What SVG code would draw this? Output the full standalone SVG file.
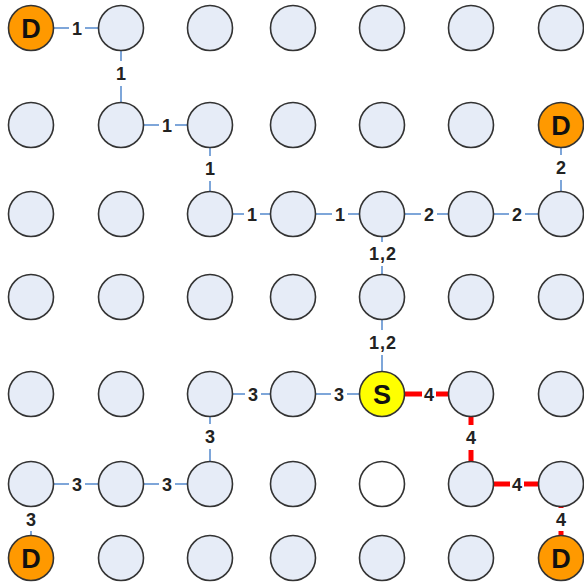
<svg xmlns="http://www.w3.org/2000/svg" width="584" height="585" viewBox="0 0 584 585">
<style>
.n{fill:#e6ecf7;stroke:#333;stroke-width:1.6}
.w{fill:#ffffff;stroke:#333;stroke-width:1.6}
.d{fill:#ff9900;stroke:#333;stroke-width:1.6}
.s{fill:#ffff00;stroke:#333;stroke-width:1.6}
.b{stroke:#7ea6d9;stroke-width:2;fill:none}
.r{stroke:#ff0000;stroke-width:5;fill:none}
.l{font-family:"Liberation Sans",Arial,sans-serif;font-weight:bold;font-size:18px;fill:#222;text-anchor:middle}
.ls{letter-spacing:1px}
.t{font-family:"Liberation Sans",Arial,sans-serif;font-weight:bold;font-size:27px;fill:#111;text-anchor:middle}
</style>
<rect width="584" height="585" fill="#ffffff"/>
<g id="connectors">
<path class="b" d="M53.5 28H69M85 28H98.5"/>
<path class="b" d="M143.5 125H159M175 125H187.5"/>
<path class="b" d="M232.5 214H244M260 214H270.5"/>
<path class="b" d="M315.5 214H332M348 214H359.5"/>
<path class="b" d="M404.5 214H421M437 214H448.5"/>
<path class="b" d="M493.5 214H509M525 214H538.5"/>
<path class="b" d="M232.5 394H245M261 394H270.5"/>
<path class="b" d="M315.5 394H331M347 394H359.5"/>
<path class="b" d="M53.5 484H69M85 484H98.5"/>
<path class="b" d="M143.5 484H159M175 484H187.5"/>
<path class="b" d="M121 50.5V61M121 86V102.5"/>
<path class="b" d="M210 147.5V156M210 181V191.5"/>
<path class="b" d="M561 147.5V155M561 180V191.5"/>
<path class="b" d="M382 236.5V242M382 266V274.5"/>
<path class="b" d="M382 319.5V330M382 355V371.5"/>
<path class="b" d="M210 416.5V424M210 449V461.5"/>
<path class="b" d="M31 506.5V507M31 531V535.5"/>
<path class="r" d="M404.5 394H422M436 394H448.5"/>
<path class="r" d="M471 416.5V425M471 450V461.5"/>
<path class="r" d="M493.5 484H510M524 484H538.5"/>
<path class="r" d="M561 506.5V508M561 531V535.5"/>
</g>
<g id="edge-labels">
<text class="l" x="77" y="34.5">1</text>
<text class="l" x="167" y="131.5">1</text>
<text class="l" x="252" y="220.5">1</text>
<text class="l" x="340" y="220.5">1</text>
<text class="l" x="429" y="220.5">2</text>
<text class="l" x="517" y="220.5">2</text>
<text class="l" x="253" y="400.5">3</text>
<text class="l" x="339" y="400.5">3</text>
<text class="l" x="77" y="490.5">3</text>
<text class="l" x="167" y="490.5">3</text>
<text class="l" x="121" y="80">1</text>
<text class="l" x="210" y="175">1</text>
<text class="l" x="561" y="174">2</text>
<text class="l ls" x="383" y="260">1,2</text>
<text class="l ls" x="383" y="349">1,2</text>
<text class="l" x="210" y="443">3</text>
<text class="l" x="31" y="526">3</text>
<text class="l" x="429" y="400.5">4</text>
<text class="l" x="471" y="444">4</text>
<text class="l" x="517" y="490.5">4</text>
<text class="l" x="561" y="526">4</text>
</g>
<g id="n-1-1"><circle class="d" cx="31" cy="28" r="22.5"/><text class="t" x="31" y="37.5">D</text></g>
<g id="n-1-2"><circle class="n" cx="121" cy="28" r="22.5"/></g>
<g id="n-1-3"><circle class="n" cx="210" cy="28" r="22.5"/></g>
<g id="n-1-4"><circle class="n" cx="293" cy="28" r="22.5"/></g>
<g id="n-1-5"><circle class="n" cx="382" cy="28" r="22.5"/></g>
<g id="n-1-6"><circle class="n" cx="471" cy="28" r="22.5"/></g>
<g id="n-1-7"><circle class="n" cx="561" cy="28" r="22.5"/></g>
<g id="n-2-1"><circle class="n" cx="31" cy="125" r="22.5"/></g>
<g id="n-2-2"><circle class="n" cx="121" cy="125" r="22.5"/></g>
<g id="n-2-3"><circle class="n" cx="210" cy="125" r="22.5"/></g>
<g id="n-2-4"><circle class="n" cx="293" cy="125" r="22.5"/></g>
<g id="n-2-5"><circle class="n" cx="382" cy="125" r="22.5"/></g>
<g id="n-2-6"><circle class="n" cx="471" cy="125" r="22.5"/></g>
<g id="n-2-7"><circle class="d" cx="561" cy="125" r="22.5"/><text class="t" x="561" y="134.5">D</text></g>
<g id="n-3-1"><circle class="n" cx="31" cy="214" r="22.5"/></g>
<g id="n-3-2"><circle class="n" cx="121" cy="214" r="22.5"/></g>
<g id="n-3-3"><circle class="n" cx="210" cy="214" r="22.5"/></g>
<g id="n-3-4"><circle class="n" cx="293" cy="214" r="22.5"/></g>
<g id="n-3-5"><circle class="n" cx="382" cy="214" r="22.5"/></g>
<g id="n-3-6"><circle class="n" cx="471" cy="214" r="22.5"/></g>
<g id="n-3-7"><circle class="n" cx="561" cy="214" r="22.5"/></g>
<g id="n-4-1"><circle class="n" cx="31" cy="297" r="22.5"/></g>
<g id="n-4-2"><circle class="n" cx="121" cy="297" r="22.5"/></g>
<g id="n-4-3"><circle class="n" cx="210" cy="297" r="22.5"/></g>
<g id="n-4-4"><circle class="n" cx="293" cy="297" r="22.5"/></g>
<g id="n-4-5"><circle class="n" cx="382" cy="297" r="22.5"/></g>
<g id="n-4-6"><circle class="n" cx="471" cy="297" r="22.5"/></g>
<g id="n-4-7"><circle class="n" cx="561" cy="297" r="22.5"/></g>
<g id="n-5-1"><circle class="n" cx="31" cy="394" r="22.5"/></g>
<g id="n-5-2"><circle class="n" cx="121" cy="394" r="22.5"/></g>
<g id="n-5-3"><circle class="n" cx="210" cy="394" r="22.5"/></g>
<g id="n-5-4"><circle class="n" cx="293" cy="394" r="22.5"/></g>
<g id="n-5-5"><circle class="s" cx="382" cy="394" r="22.5"/><text class="t" x="382" y="403.5">S</text></g>
<g id="n-5-6"><circle class="n" cx="471" cy="394" r="22.5"/></g>
<g id="n-5-7"><circle class="n" cx="561" cy="394" r="22.5"/></g>
<g id="n-6-1"><circle class="n" cx="31" cy="484" r="22.5"/></g>
<g id="n-6-2"><circle class="n" cx="121" cy="484" r="22.5"/></g>
<g id="n-6-3"><circle class="n" cx="210" cy="484" r="22.5"/></g>
<g id="n-6-4"><circle class="n" cx="293" cy="484" r="22.5"/></g>
<g id="n-6-5"><circle class="w" cx="382" cy="484" r="22.5"/></g>
<g id="n-6-6"><circle class="n" cx="471" cy="484" r="22.5"/></g>
<g id="n-6-7"><circle class="n" cx="561" cy="484" r="22.5"/></g>
<g id="n-7-1"><circle class="d" cx="31" cy="558" r="22.5"/><text class="t" x="31" y="567.5">D</text></g>
<g id="n-7-2"><circle class="n" cx="121" cy="558" r="22.5"/></g>
<g id="n-7-3"><circle class="n" cx="210" cy="558" r="22.5"/></g>
<g id="n-7-4"><circle class="n" cx="293" cy="558" r="22.5"/></g>
<g id="n-7-5"><circle class="n" cx="382" cy="558" r="22.5"/></g>
<g id="n-7-6"><circle class="n" cx="471" cy="558" r="22.5"/></g>
<g id="n-7-7"><circle class="d" cx="561" cy="558" r="22.5"/><text class="t" x="561" y="567.5">D</text></g>
</svg>
